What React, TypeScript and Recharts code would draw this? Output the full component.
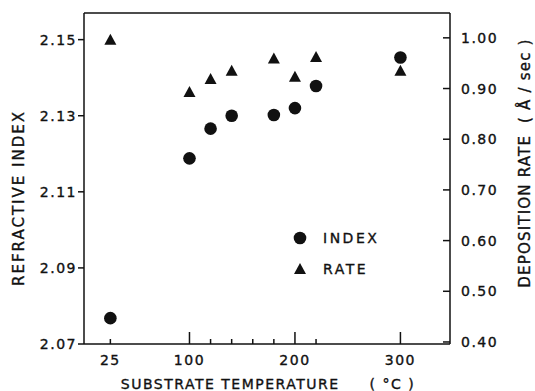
import { ScatterChart, Scatter, XAxis, YAxis, ReferenceLine, Legend } from 'recharts'

const temps = [25, 100, 120, 140, 180, 200, 220, 300]
const indexVals = [2.0768, 2.1188, 2.1266, 2.13, 2.1302, 2.132, 2.1378, 2.1453]
const rateVals = [0.996, 0.893, 0.919, 0.935, 0.959, 0.923, 0.962, 0.935]

const xTicks = [25, 100, 120, 140, 160, 180, 200, 220, 300]
const xLabels = [25, 100, 200, 300]
const xMajor = [100, 200, 300]
const indexTicks = [2.07, 2.09, 2.11, 2.13, 2.15]
const rateTicks = [0.4, 0.5, 0.6, 0.7, 0.8, 0.9, 1.0]

const indexData = temps.map((t, i) => ({ x: t, y: indexVals[i] }))
const rateData = temps.map((t, i) => ({ x: t, y: rateVals[i] }))

const INK = '#111'
const FONT = '"DejaVu Sans", sans-serif'
// thicken the text a little, the scan is heavier than DejaVu Book
const txt = { fill: INK, fontFamily: FONT, stroke: INK, strokeWidth: 0.35 }

function BottomTick({ x, y, payload }: any) {
  const v = payload.value
  const len = xMajor.includes(v) ? 12 : 5
  return (
    <g>
      <line x1={x} x2={x} y1={y} y2={y - len} stroke={INK} strokeWidth={1.5} />
      {xLabels.includes(v) && (
        <text x={x} y={y + 21} textAnchor="middle" fontSize={14} letterSpacing={1.5} {...txt}>
          {v}
        </text>
      )}
    </g>
  )
}

function LeftTick({ x, y, payload }: any) {
  return (
    <g>
      <line x1={x - 6} x2={x} y1={y} y2={y} stroke={INK} strokeWidth={1.5} />
      <text x={x - 7} y={y + 5} textAnchor="end" fontSize={14} letterSpacing={1.5} {...txt}>
        {payload.value.toFixed(2)}
      </text>
    </g>
  )
}

function RightTick({ x, y, payload }: any) {
  return (
    <g>
      <line x1={x - 7} x2={x} y1={y} y2={y} stroke={INK} strokeWidth={1.5} />
      <text x={x + 11} y={y + 5} textAnchor="start" fontSize={14} letterSpacing={1.5} {...txt}>
        {payload.value.toFixed(2)}
      </text>
    </g>
  )
}

const dot = (p: any) => <circle cx={p.cx} cy={p.cy} r={6.3} fill={INK} />
const tri = (p: any) => (
  <polygon points={`${p.cx},${p.cy - 6} ${p.cx - 6},${p.cy + 5} ${p.cx + 6},${p.cy + 5}`} fill={INK} />
)

function KeyBox() {
  const row = { display: 'flex', alignItems: 'center', height: 31 }
  return (
    <div style={{ fontFamily: FONT, fontSize: 14, color: INK, letterSpacing: 2.5, WebkitTextStroke: '0.35px #111' }}>
      <div style={row}>
        <svg width={14} height={14}><circle cx={7} cy={7} r={6.3} fill={INK} /></svg>
        <span style={{ marginLeft: 16 }}>INDEX</span>
      </div>
      <div style={row}>
        <svg width={14} height={14}><polygon points="7,1 1,12 13,12" fill={INK} /></svg>
        <span style={{ marginLeft: 16 }}>RATE</span>
      </div>
    </div>
  )
}

export default function App() {
  return (
    <div style={{ position: 'absolute', left: 0, top: 0, background: '#fff' }}>
      <ScatterChart width={535} height={391} margin={{ top: 13, right: 0, bottom: 0, left: 0 }}>
        <XAxis
          type="number"
          dataKey="x"
          domain={[0, 347]}
          ticks={xTicks}
          interval={0}
          height={47}
          tickSize={0}
          tickMargin={0}
          tickLine={false}
          axisLine={{ stroke: INK, strokeWidth: 1.5 }}
          tick={<BottomTick />}
          label={() => (
            <text x={268} y={389} textAnchor="middle" fontSize={14} letterSpacing={1.5} {...txt}>
              SUBSTRATE TEMPERATURE<tspan dx={30}>( °C )</tspan>
            </text>
          )}
        />
        <YAxis
          yAxisId="left"
          type="number"
          dataKey="y"
          domain={[2.07, 2.157]}
          allowDataOverflow
          ticks={indexTicks}
          interval={0}
          width={84}
          tickSize={0}
          tickMargin={0}
          tickLine={false}
          axisLine={{ stroke: INK, strokeWidth: 1.5 }}
          tick={<LeftTick />}
          label={() => (
            <text x={24} y={198} transform="rotate(-90 24 198)" textAnchor="middle" fontSize={15} letterSpacing={2} {...txt}>
              REFRACTIVE INDEX
            </text>
          )}
        />
        <YAxis
          yAxisId="right"
          orientation="right"
          type="number"
          dataKey="y"
          domain={[0.396, 1.049]}
          allowDataOverflow
          ticks={rateTicks}
          interval={0}
          width={85}
          tickSize={0}
          tickMargin={0}
          tickLine={false}
          axisLine={{ stroke: INK, strokeWidth: 1.5 }}
          tick={<RightTick />}
          label={() => (
            <text x={530} y={163} transform="rotate(-90 530 163)" textAnchor="middle" fontSize={15} letterSpacing={1.2} {...txt}>
              DEPOSITION RATE<tspan dx={12}>( Å / sec )</tspan>
            </text>
          )}
        />
        <ReferenceLine yAxisId="left" y={2.157} stroke={INK} strokeWidth={1.5} />
        <Legend
          layout="vertical"
          align="center"
          verticalAlign="middle"
          content={<KeyBox />}
          wrapperStyle={{ left: 293, top: 222, width: 'auto' }}
        />
        <Scatter name="INDEX" yAxisId="left" data={indexData} shape={dot} isAnimationActive={false} />
        <Scatter name="RATE" yAxisId="right" data={rateData} shape={tri} isAnimationActive={false} />
      </ScatterChart>
    </div>
  )
}
